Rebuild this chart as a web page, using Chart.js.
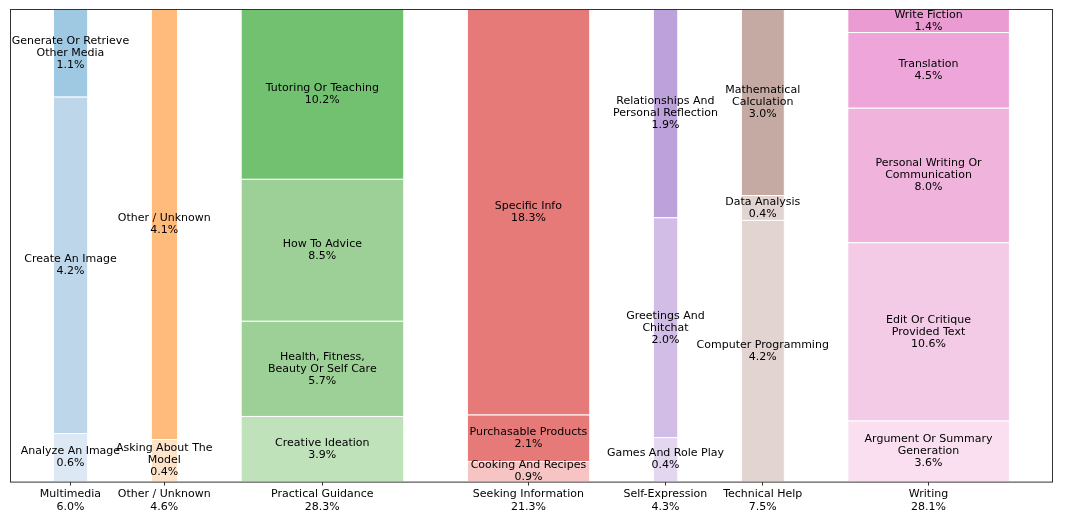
<!DOCTYPE html>
<html>
<head>
<meta charset="utf-8">
<script src="https://cdn.jsdelivr.net/npm/chart.js@4.4.1/dist/chart.umd.min.js"></script>
<style>
  html, body { margin: 0; padding: 0; background: #fff; }
  #wrap { width: 1077px; height: 522px; }
</style>
</head>
<body>
<div id="wrap"><canvas id="mekko"></canvas></div>
<script>
// Categories (left to right) and their share of all conversations
const categories = ['Multimedia', 'Other / Unknown', 'Practical Guidance', 'Seeking Information', 'Self-Expression', 'Technical Help', 'Writing'];
const categoryShares = [6.0, 4.6, 28.3, 21.3, 4.3, 7.5, 28.1];

// Subcategories for each bar, stacked bottom to top
const subLabels = [
    ['Analyze An Image', 'Create An Image', 'Generate Or Retrieve\nOther Media'],
    ['Asking About The\nModel', 'Other / Unknown'],
    ['Creative Ideation', 'Health, Fitness,\nBeauty Or Self Care', 'How To Advice', 'Tutoring Or Teaching'],
    ['Cooking And Recipes', 'Purchasable Products', 'Specific Info'],
    ['Games And Role Play', 'Greetings And\nChitchat', 'Relationships And\nPersonal Reflection'],
    ['Computer Programming', 'Data Analysis', 'Mathematical\nCalculation'],
    ['Argument Or Summary\nGeneration', 'Edit Or Critique\nProvided Text', 'Personal Writing Or\nCommunication', 'Translation', 'Write Fiction']
];
const subShares = [
    [0.6, 4.2, 1.1],
    [0.4, 4.1],
    [3.9, 5.7, 8.5, 10.2],
    [0.9, 2.1, 18.3],
    [0.4, 2.0, 1.9],
    [4.2, 0.4, 3.0],
    [3.6, 10.6, 8.0, 4.5, 1.4]
];
const subColors = [
    ['#dce9f5', '#bed6ea', '#9fc8e2'],
    ['#fde3c8', '#ffbb7c'],
    ['#bfe2bb', '#9dd097', '#9dd097', '#72c170'],
    ['#f5c4c3', '#e67a79', '#e67a79'],
    ['#e3d6ef', '#d1bde6', '#bca1da'],
    ['#e2d4d0', '#e2d4d0', '#c4aaa2'],
    ['#f9dff0', '#f4cbe6', '#f0b3dc', '#eea6da', '#ea9bd1']
];

// layout in x units (1 unit = 1 % of share)
const startX = 7.5, gapX = 11, maxX = 181;

const datasets = [];
const labelBoxes = [];
const centers = [];
let x = startX;
categories.forEach((cat, i) => {
    const w = categoryShares[i];
    const x0 = x, x1 = x + w;
    centers.push(x + w / 2);
    const total = subShares[i].reduce((a, b) => a + b, 0);
    let lo = 0;
    subShares[i].forEach((v, j) => {
        const hi = lo + v / total * 100;
        datasets.push({
            data: [{x: x0, y: lo}, {x: x1, y: lo}, {x: x1, y: hi}, {x: x0, y: hi}, {x: x0, y: lo}],
            showLine: true, fill: 'shape', tension: 0,
            backgroundColor: subColors[i][j], borderColor: '#ffffff', borderWidth: 1,
            pointRadius: 0, pointHoverRadius: 0
        });
        labelBoxes.push({x: x + w / 2, y: (lo + hi) / 2, text: subLabels[i][j] + '\n' + v.toFixed(1) + '%'});
        lo = hi;
    });
    x = x1 + gapX;
});

const segmentLabels = {
    id: 'segmentLabels',
    afterDatasetsDraw(chart) {
        const {ctx, scales} = chart;
        ctx.save();
        ctx.font = '11px "DejaVu Sans", sans-serif';
        ctx.fillStyle = '#000';
        ctx.textAlign = 'center';
        ctx.textBaseline = 'middle';
        labelBoxes.forEach(b => {
            const lines = b.text.split('\n');
            const px = scales.x.getPixelForValue(b.x);
            const py = scales.y.getPixelForValue(b.y);
            const lh = 12;
            lines.forEach((ln, k) => ctx.fillText(ln, px, py + (k - (lines.length - 1) / 2) * lh));
        });
        const a = chart.chartArea;
        ctx.strokeStyle = '#333';
        ctx.lineWidth = 1;
        ctx.strokeRect(a.left + 0.5, a.top + 0.5, a.right - a.left, a.bottom - a.top);
        ctx.restore();
    }
};

new Chart(document.getElementById('mekko'), {
    type: 'scatter',
    data: { datasets },
    plugins: [segmentLabels],
    options: {
        responsive: true, maintainAspectRatio: false, animation: false,
        layout: { padding: { left: 10, right: 25, top: 9, bottom: 6 } },
        plugins: { legend: { display: false }, tooltip: { enabled: false } },
        scales: {
            x: {
                type: 'linear', min: 0, max: maxX,
                grid: { display: true, drawOnChartArea: false, drawTicks: true, tickLength: 4, color: '#333' },
                border: { display: false },
                afterBuildTicks: axis => { axis.ticks = centers.map(v => ({value: v})); },
                ticks: {
                    autoSkip: false, maxRotation: 0, color: '#000', padding: 2,
                    font: { family: '"DejaVu Sans", sans-serif', size: 11 },
                    callback: (v, idx) => [categories[idx], categoryShares[idx].toFixed(1) + '%']
                }
            },
            y: { min: 0, max: 100, display: false }
        }
    }
});
</script>
</body>
</html>
